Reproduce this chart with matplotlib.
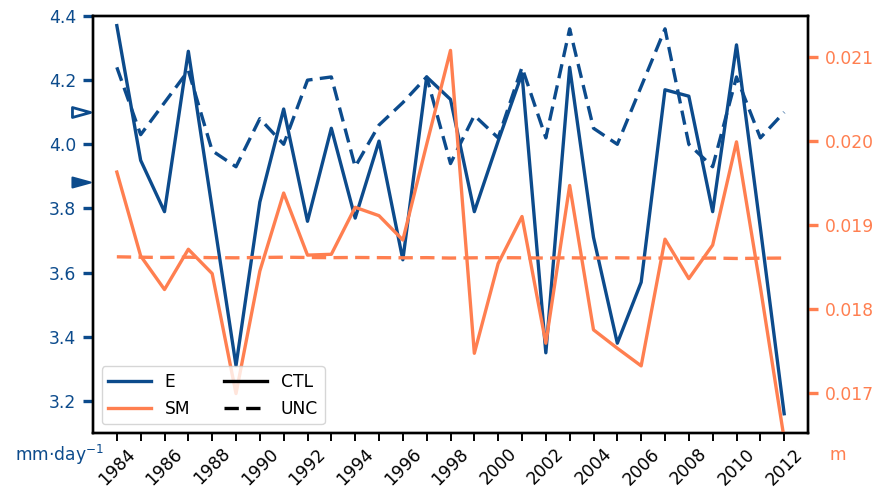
import numpy as np
import matplotlib
matplotlib.use("Agg")
import matplotlib.pyplot as plt
from matplotlib.lines import Line2D
from matplotlib.path import Path
from matplotlib.transforms import blended_transform_factory

plt.rcParams['font.family'] = ['DejaVu Sans']

years = list(range(1984, 2013))
E_ctl = [4.37, 3.95, 3.79, 4.29, 3.80, 3.31, 3.82, 4.11, 3.76, 4.05,
         3.77, 4.01, 3.64, 4.21, 4.14, 3.79, 4.01, 4.22, 3.35, 4.24,
         3.71, 3.38, 3.57, 4.17, 4.15, 3.79, 4.31, 3.74, 3.16]
E_unc = [4.24, 4.03, 4.13, 4.23, 3.98, 3.93, 4.08, 4.00, 4.20, 4.21,
         3.93, 4.06, 4.13, 4.21, 3.94, 4.09, 4.02, 4.24, 4.02, 4.36,
         4.05, 4.00, 4.18, 4.36, 4.00, 3.93, 4.21, 4.02, 4.10]
SM_ctl = [0.01963, 0.01863, 0.01823, 0.01871, 0.01842, 0.01699, 0.01845, 0.01938,
          0.01864, 0.01865, 0.01921, 0.01911, 0.01882, 0.01996, 0.02108, 0.01747,
          0.01854, 0.01910, 0.01759, 0.01947, 0.01775, 0.01753, 0.01732, 0.01883,
          0.01836, 0.01876, 0.01999, 0.01826, 0.01645]
SM_unc = [0.018620, 0.018615, 0.018612, 0.018615, 0.018610, 0.018608, 0.018612, 0.018615,
          0.018612, 0.018610, 0.018612, 0.018610, 0.018608, 0.018610, 0.018605, 0.018608,
          0.018610, 0.018608, 0.018605, 0.018608, 0.018605, 0.018608, 0.018605, 0.018605,
          0.018602, 0.018605, 0.018600, 0.018603, 0.018605]

BLUE = '#0c4b8c'
ORANGE = '#ff7f50'
FS = 12.3

fig = plt.figure(figsize=(8.79, 4.94), dpi=100)
ax = fig.add_axes([93/879, 1-433/494, 715/879, 417/494])
ax2 = ax.twinx()

lw = 2.4
dash = (0, (4.3, 2.2))
ax.plot(years, E_ctl, color=BLUE, lw=lw, ls='-')
ax.plot(years, E_unc, color=BLUE, lw=lw, ls=dash)
ax2.plot(years, SM_ctl, color=ORANGE, lw=lw, ls='-')
ax2.plot(years, SM_unc, color=ORANGE, lw=lw, ls=dash)

ax.set_xlim(1983, 2013)
ax.set_ylim(3.1, 4.4)
ax2.set_ylim(0.01652, 0.02149)

ax.set_yticks([3.2, 3.4, 3.6, 3.8, 4.0, 4.2, 4.4])
ax2.set_yticks([0.017, 0.018, 0.019, 0.020, 0.021])
ax2.set_yticklabels(['0.017', '0.018', '0.019', '0.020', '0.021'])
ax.set_xticks(years)
ax.set_xticklabels([str(y) if y % 2 == 0 else '' for y in years], rotation=45)

ax.tick_params(axis='y', colors=BLUE, labelsize=FS, length=7, width=2.4, pad=5)
ax2.tick_params(axis='y', colors=ORANGE, labelsize=FS, length=7, width=2.4, pad=5)
ax.tick_params(axis='x', colors='black', labelsize=FS, length=5.5, width=1.4, pad=3)

for a in (ax, ax2):
    for s in a.spines.values():
        s.set_color('black')
        s.set_linewidth(1.7)

# mean markers on the left axis
tri = Path([(-1, -0.55), (1, 0), (-1, 0.55), (-1, -0.55)],
           [Path.MOVETO, Path.LINETO, Path.LINETO, Path.CLOSEPOLY])
trans = blended_transform_factory(ax.transAxes, ax.transData)
ax.plot([-0.017], [np.mean(E_unc)], marker=tri, ms=13, mfc='white', mec=BLUE,
        mew=2, transform=trans, clip_on=False, ls='none')
ax.plot([-0.017], [np.mean(E_ctl)], marker=tri, ms=13, mfc=BLUE, mec=BLUE,
        mew=1.5, transform=trans, clip_on=False, ls='none')

handles = [Line2D([], [], color=BLUE, lw=lw),
           Line2D([], [], color=ORANGE, lw=lw),
           Line2D([], [], color='black', lw=lw, ls='-'),
           Line2D([], [], color='black', lw=lw, ls=dash)]
labels = ['E', 'SM', 'CTL', 'UNC']
ax2.legend(handles, labels, loc='lower left', ncol=2, fontsize=FS,
           handlelength=2.5, columnspacing=2.0, borderaxespad=0.5)

fig.text(104/879, 1-455/494, 'mm·day$^{-1}$', ha='right', va='center',
         color=BLUE, fontsize=FS)
fig.text(838/879, 1-455/494, 'm', ha='center', va='center',
         color=ORANGE, fontsize=FS)

fig.savefig('out.png', dpi=100)
